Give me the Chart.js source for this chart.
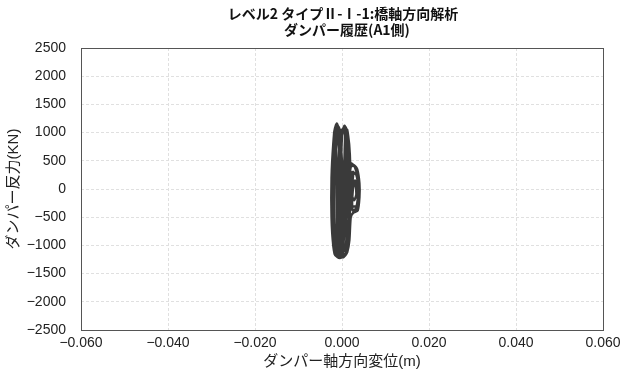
<!DOCTYPE html>
<html><head><meta charset="utf-8">
<script src="https://cdn.jsdelivr.net/npm/chart.js@4/dist/chart.umd.min.js"></script>
<style>html,body{margin:0;padding:0;background:#fff}#wrap{width:620px;height:382px}</style>
</head><body><div id="wrap"><canvas id="c" width="620" height="382"></canvas></div>
<script>
const titleLines = ["レベル2 タイプⅡ-Ⅰ-1:橋軸方向解析", "ダンパー履歴(A1側)"];
const xAxisTitle = "ダンパー軸方向変位(m)";
const yAxisTitle = "ダンパー反力(KN)";
const xTicks = [-0.06, -0.04, -0.02, 0.0, 0.02, 0.04, 0.06];
const yTicks = [-2500, -2000, -1500, -1000, -500, 0, 500, 1000, 1500, 2000, 2500];
// damper displacement (m)
const dispX = [0.0000,-0.0004,-0.0010,-0.0013,-0.0018,-0.0021,-0.0023,-0.0022,-0.0017,-0.0010,
  -0.0003,0.0005,0.0012,0.0017,0.0019,0.0018,0.0014,0.0008,0.0003,-0.0001,
  -0.0005,-0.0010,-0.0016,-0.0020,-0.0024,-0.0024,-0.0020,-0.0014,-0.0012,-0.0013,
  -0.0014,-0.0011,-0.0007,-0.0006,-0.0007,-0.0005,0.0000,0.0004,0.0005,0.0006,
  0.0008,0.0012,0.0016,0.0020,0.0028,0.0035,0.0040,0.0040,0.0036,0.0026,
  0.0020,0.0017,0.0012,0.0006,0.0000,-0.0002,-0.0002,-0.0001,0.0002,0.0006,
  0.0011,0.0014,0.0015,0.0013,0.0009,0.0003,-0.0006,-0.0013,-0.0018,-0.0019,
  -0.0018,-0.0015,-0.0012,-0.0008,-0.0003,0.0001,0.0003,0.0002,-0.0002,-0.0008,
  -0.0010,-0.0009,-0.0004,0.0001,0.0006,0.0010,0.0011,0.0010,0.0016,0.0024,
  0.0033,0.0038,0.0034,0.0022,0.0018,0.0017,0.0013,0.0007,0.0005,0.0008,
  0.0010,0.0007,0.0001,-0.0005,-0.0006,-0.0003,0.0000,0.0015,0.0022,0.0030,
  0.0036,0.0037,0.0032,0.0024,0.0025,0.0030,0.0033,0.0028,0.0022,0.0026,
  0.0020];
// damper reaction force (kN)
const dispF = [0,600,1050,1150,1000,500,-200,-800,-1150,-1210,
  -1220,-1180,-1050,-600,0,600,950,1100,1080,900,
  1050,1120,1080,800,200,-500,-1000,-1180,-700,0,
  700,1000,700,0,-800,-1150,-1200,-900,-100,600,
  1000,1050,800,400,420,350,100,-150,-380,-420,
  -500,-900,-1120,-1190,-1150,-600,200,800,1050,1120,
  950,400,-300,-900,-1150,-1210,-1200,-1100,-600,0,
  600,1000,1160,1080,800,300,-400,-1000,-1180,-1160,
  -400,400,950,1060,1020,700,100,-500,-300,300,
  250,0,-300,-300,200,600,850,700,200,-400,
  -900,-1100,-1000,-500,300,500,100,200,450,380,
  200,-100,-350,-380,0,150,-100,-200,-100,300,
  100];

const pts = dispX.map((x, i) => ({x: x, y: dispF[i]}));
const FONT = "'Liberation Sans', 'Noto Sans CJK JP', sans-serif";

const boxPlugin = {
  id: 'box',
  afterDraw(chart) {
    const a = chart.chartArea, ctx = chart.ctx;
    ctx.save();
    ctx.strokeStyle = '#555';
    ctx.lineWidth = 1;
    ctx.strokeRect(a.left + 0.5, a.top + 0.5, a.right - a.left, a.bottom - a.top);
    ctx.fillStyle = '#111';
    ctx.font = "bold 14px 'Noto Sans CJK JP', sans-serif";
    ctx.textAlign = 'center';
    ctx.textBaseline = 'middle';
    ctx.fillText(titleLines[0], 343, 14);
    ctx.fillText(titleLines[1], 347, 30);
    ctx.restore();
  }
};

new Chart(document.getElementById('c'), {
  type: 'scatter',
  data: { datasets: [{
    data: pts, showLine: true, borderColor: '#3a3a3a', borderWidth: 2.5,
    pointRadius: 0, tension: 0.2, fill: false
  }]},
  options: {
    responsive: false, animation: false,
    layout: { padding: { left: 0, right: 17, top: 48, bottom: 0 } },
    plugins: { legend: { display: false }, tooltip: { enabled: false }, title: { display: false } },
    scales: {
      x: {
        type: 'linear', min: -0.06, max: 0.06,
        afterBuildTicks(s) { s.ticks = xTicks.map(v => ({value: v})); },
        afterFit(s) { s.height = 52; s.paddingLeft = 0; s.paddingRight = 0; },
        ticks: { padding: 5, color: '#222', font: { size: 14, family: FONT },
          callback: v => (v < 0 ? '\u2212' + Math.abs(v).toFixed(3) : v.toFixed(3)) },
        grid: { color: '#e0e0e0', drawTicks: false },
        border: { display: false, dash: [3, 2] },
        title: { display: true, text: xAxisTitle, color: '#222', font: { size: 15, family: FONT }, padding: { top: 0, bottom: 11 } }
      },
      y: {
        type: 'linear', min: -2500, max: 2500,
        afterBuildTicks(s) { s.ticks = yTicks.map(v => ({value: v})); },
        afterFit(s) { s.width = 81; },
        ticks: { padding: 15, color: '#222', font: { size: 14, family: FONT },
          callback: v => (v < 0 ? '\u2212' + Math.abs(v) : String(v)) },
        grid: { color: '#e0e0e0', drawTicks: false },
        border: { display: false, dash: [3, 2] },
        title: { display: true, text: yAxisTitle, color: '#222', font: { size: 15, family: FONT }, padding: { top: 5, bottom: 0 } }
      }
    }
  },
  plugins: [boxPlugin]
});
</script>
</body></html>
